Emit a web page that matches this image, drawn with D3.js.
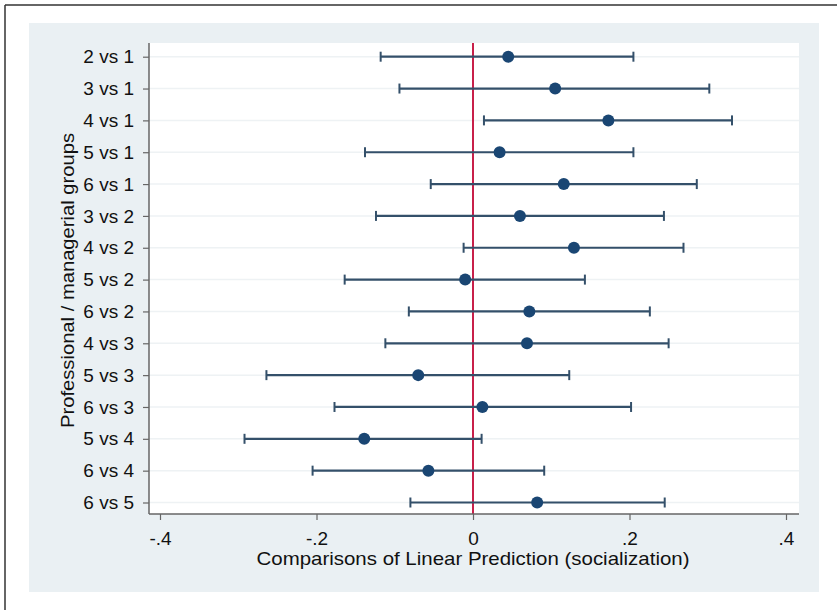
<!DOCTYPE html>
<html>
<head>
<meta charset="utf-8">
<script src="https://cdn.jsdelivr.net/npm/d3@7"></script>
<style>
  body { margin: 0; background: #fff; }
  svg { display: block; font-family: "Liberation Sans", Arial, sans-serif; }
</style>
</head>
<body>
<div id="chart"></div>
<script>
// comparisons, point estimates and 95% CI bounds
const comparisons = ['2 vs 1', '3 vs 1', '4 vs 1', '5 vs 1', '6 vs 1',
                     '3 vs 2', '4 vs 2', '5 vs 2', '6 vs 2',
                     '4 vs 3', '5 vs 3', '6 vs 3',
                     '5 vs 4', '6 vs 4', '6 vs 5'];
const estimates = [0.045, 0.105, 0.173, 0.034, 0.116,
                   0.060, 0.129, -0.010, 0.072,
                   0.069, -0.070, 0.012,
                   -0.139, -0.057, 0.082];
const lower = [-0.118, -0.094, 0.014, -0.138, -0.054,
               -0.124, -0.012, -0.164, -0.082,
               -0.112, -0.264, -0.177,
               -0.292, -0.205, -0.080];
const upper = [0.205, 0.302, 0.331, 0.205, 0.286,
               0.244, 0.269, 0.143, 0.226,
               0.250, 0.123, 0.202,
               0.011, 0.091, 0.245];
const xTicks = [-0.4, -0.2, 0, 0.2, 0.4];
const xTickLabels = ['-.4', '-.2', '0', '.2', '.4'];

const W = 837, H = 610;
const plot = {left: 149, top: 43, right: 799, bottom: 514};
const fontSize = 19;

const svg = d3.select('#chart').append('svg')
    .attr('width', W)
    .attr('height', H);

// outer frame (only top and left edges visible)
svg.append('line').attr('x1', 5).attr('x2', W).attr('y1', 5).attr('y2', 5)
    .attr('stroke', '#333').attr('stroke-width', 1.5);
svg.append('line').attr('x1', 5).attr('x2', 5).attr('y1', 5).attr('y2', H)
    .attr('stroke', '#333').attr('stroke-width', 1.5);

// graph region background
svg.append('rect')
    .attr('x', 29).attr('y', 23)
    .attr('width', 819 - 29).attr('height', 592 - 23)
    .attr('fill', '#eaf0f3');

// plot region
svg.append('rect')
    .attr('x', plot.left).attr('y', plot.top)
    .attr('width', plot.right - plot.left).attr('height', plot.bottom - plot.top)
    .attr('fill', '#fff');

const x = d3.scaleLinear()
    .domain([-0.4, 0.4])
    .range([160, 786]);

const y = d3.scalePoint()
    .domain(comparisons)
    .range([56.7, 502.5]);

const data = comparisons.map((c, i) => ({
    name: c, est: estimates[i], lo: lower[i], hi: upper[i]
}));

// grid lines
svg.append('g')
    .selectAll('line')
    .data(comparisons)
    .enter().append('line')
    .attr('x1', plot.left).attr('x2', plot.right)
    .attr('y1', d => y(d)).attr('y2', d => y(d))
    .attr('stroke', '#eef2f4')
    .attr('stroke-width', 1.5);

// reference line at zero
svg.append('line')
    .attr('x1', x(0)).attr('x2', x(0))
    .attr('y1', plot.top).attr('y2', plot.bottom)
    .attr('stroke', '#c8204a')
    .attr('stroke-width', 2);

// confidence intervals
const bars = svg.append('g').attr('class', 'ci');
bars.selectAll('.ci-line')
    .data(data)
    .enter().append('line')
    .attr('x1', d => x(d.lo)).attr('x2', d => x(d.hi))
    .attr('y1', d => y(d.name)).attr('y2', d => y(d.name))
    .attr('stroke', '#34506a')
    .attr('stroke-width', 2.2);

['lo', 'hi'].forEach(k => {
    bars.selectAll('.cap-' + k)
        .data(data)
        .enter().append('line')
        .attr('x1', d => x(d[k])).attr('x2', d => x(d[k]))
        .attr('y1', d => y(d.name) - 5).attr('y2', d => y(d.name) + 5)
        .attr('stroke', '#34506a')
        .attr('stroke-width', 2);
});

// point estimates
svg.append('g')
    .selectAll('circle')
    .data(data)
    .enter().append('circle')
    .attr('cx', d => x(d.est))
    .attr('cy', d => y(d.name))
    .attr('r', 6)
    .attr('fill', '#1a4673');

// axes
const xAxis = d3.axisBottom(x)
    .tickValues(xTicks)
    .tickFormat((d, i) => xTickLabels[i])
    .tickSize(6)
    .tickSizeOuter(0);

const gx = svg.append('g')
    .attr('class', 'axis axis-x')
    .attr('transform', 'translate(0,' + plot.bottom + ')')
    .call(xAxis);
gx.select('.domain').remove();
gx.append('line')
    .attr('x1', plot.left).attr('x2', plot.right)
    .attr('stroke', '#666').attr('stroke-width', 1.5);
gx.selectAll('.tick line').attr('stroke', '#666').attr('stroke-width', 1.2);
gx.selectAll('.tick text')
    .attr('y', 31)
    .attr('dy', 0)
    .attr('font-size', fontSize)
    .attr('font-family', '"Liberation Sans", Arial, sans-serif')
    .attr('fill', '#111');

const yAxis = d3.axisLeft(y)
    .tickSize(6)
    .tickPadding(9)
    .tickSizeOuter(0);

const gy = svg.append('g')
    .attr('class', 'axis axis-y')
    .attr('transform', 'translate(' + plot.left + ',0)')
    .call(yAxis);
gy.select('.domain').remove();
gy.append('line')
    .attr('y1', plot.top).attr('y2', plot.bottom)
    .attr('stroke', '#666').attr('stroke-width', 1.5);
gy.selectAll('.tick line').attr('stroke', '#666').attr('stroke-width', 1.2);
gy.selectAll('.tick text')
    .attr('font-size', fontSize)
    .attr('font-family', '"Liberation Sans", Arial, sans-serif')
    .attr('fill', '#111');

// axis titles
svg.append('text')
    .attr('x', x(0))
    .attr('y', 565)
    .attr('text-anchor', 'middle')
    .attr('font-size', fontSize)
    .attr('textLength', 433)
    .attr('lengthAdjust', 'spacingAndGlyphs')
    .attr('fill', '#111')
    .text('Comparisons of Linear Prediction (socialization)');

svg.append('text')
    .attr('transform', 'translate(74,280.5) rotate(-90)')
    .attr('text-anchor', 'middle')
    .attr('font-size', fontSize)
    .attr('textLength', 295)
    .attr('lengthAdjust', 'spacingAndGlyphs')
    .attr('fill', '#111')
    .text('Professional / managerial groups');
</script>
</body>
</html>
